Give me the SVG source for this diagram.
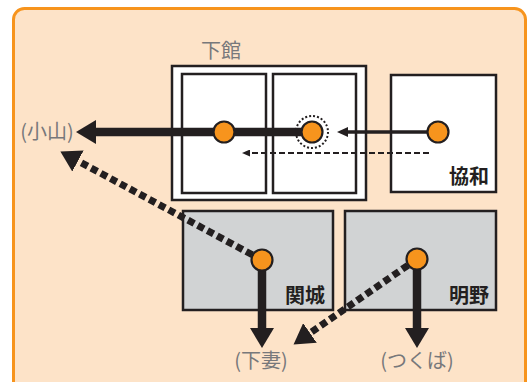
<svg xmlns="http://www.w3.org/2000/svg" width="528" height="382" viewBox="0 0 528 382">
<style>
.bg{fill:#fde3c8;stroke:#f7941d;stroke-width:3}
.box{fill:#fff;stroke:#231f20;stroke-width:2.5}
.gbox{fill:#d1d3d4;stroke:#231f20;stroke-width:2.5}
.st{fill:#f7941d;stroke:#231f20;stroke-width:2.2}
.name{font-family:"Noto Sans CJK JP","Noto Sans",sans-serif;font-size:20px;fill:#231f20;font-weight:bold}
.ext{font-family:"Noto Sans CJK JP","Noto Sans",sans-serif;font-size:20px;fill:#77787b}
.thick{stroke:#231f20;stroke-width:8.5;fill:none}
.dot{stroke:#231f20;stroke-width:7;stroke-dasharray:7 4;fill:none}
.thin{stroke:#231f20;stroke-width:3.5;fill:none}
.dash{stroke:#231f20;stroke-width:2;stroke-dasharray:6 3;fill:none}
</style>
<defs>
<marker id="big" markerUnits="userSpaceOnUse" markerWidth="22" markerHeight="24" refX="0" refY="12" orient="auto" viewBox="0 0 22 24">
<path d="M0,0 L20,12 L0,24 z" fill="#231f20"/>
</marker>
<marker id="mid" markerUnits="userSpaceOnUse" markerWidth="12" markerHeight="10" refX="0" refY="5" orient="auto" viewBox="0 0 12 10">
<path d="M0,0 L11,5 L0,10 z" fill="#231f20"/>
</marker>
<marker id="small" markerUnits="userSpaceOnUse" markerWidth="9" markerHeight="7" refX="0" refY="3.5" orient="auto" viewBox="0 0 9 7">
<path d="M0,0 L8,3.5 L0,7 z" fill="#231f20"/>
</marker>
</defs>
<rect class="bg" x="13.5" y="8.5" width="512" height="385" rx="11"/>
<g id="shimodate">
<rect class="box" x="172" y="66" width="194" height="134"/>
<rect class="box" x="182" y="74" width="84" height="119"/>
<rect class="box" x="273" y="74" width="83" height="119"/>
<text class="ext" x="221" y="58" text-anchor="middle">下館</text>
</g>
<g id="kyowa">
<rect class="box" x="391" y="75" width="105" height="117"/>
<text class="name" x="489" y="184" text-anchor="end">協和</text>
</g>
<g id="sekijo">
<rect class="gbox" x="183" y="211" width="150" height="99"/>
<text class="name" x="325" y="303" text-anchor="end">関城</text>
</g>
<g id="akeno">
<rect class="gbox" x="345" y="211" width="151" height="99"/>
<text class="name" x="489" y="303" text-anchor="end">明野</text>
</g>
<g id="labels">
<text class="ext" x="47" y="139" text-anchor="middle">(小山)</text>
<text class="ext" x="261" y="368" text-anchor="middle">(下妻)</text>
<text class="ext" x="417" y="368" text-anchor="middle">(つくば)</text>
</g>
<g id="connectors">
<line class="thick" x1="312" y1="132" x2="96" y2="132" marker-end="url(#big)"/>
<line class="thin" x1="438" y1="132" x2="348" y2="132" marker-end="url(#mid)"/>
<line class="dash" x1="429" y1="153" x2="250" y2="153" marker-end="url(#small)"/>
<line class="dot" x1="262" y1="260" x2="78" y2="161" marker-end="url(#big)"/>
<line class="dot" x1="417" y1="259" x2="310" y2="333" marker-end="url(#big)"/>
<line class="thick" x1="262" y1="260" x2="262" y2="328" marker-end="url(#big)"/>
<line class="thick" x1="417" y1="259" x2="417" y2="328" marker-end="url(#big)"/>
</g>
<g id="stations">
<circle class="st" cx="224" cy="132" r="10.5"/>
<circle cx="312" cy="132" r="16" fill="none" stroke="#231f20" stroke-width="2" stroke-dasharray="2 2"/>
<circle class="st" cx="312" cy="132" r="10.5"/>
<circle class="st" cx="438" cy="132" r="10.5"/>
<circle class="st" cx="262" cy="260" r="10.5"/>
<circle class="st" cx="417" cy="259" r="10.5"/>
</g>
</svg>
